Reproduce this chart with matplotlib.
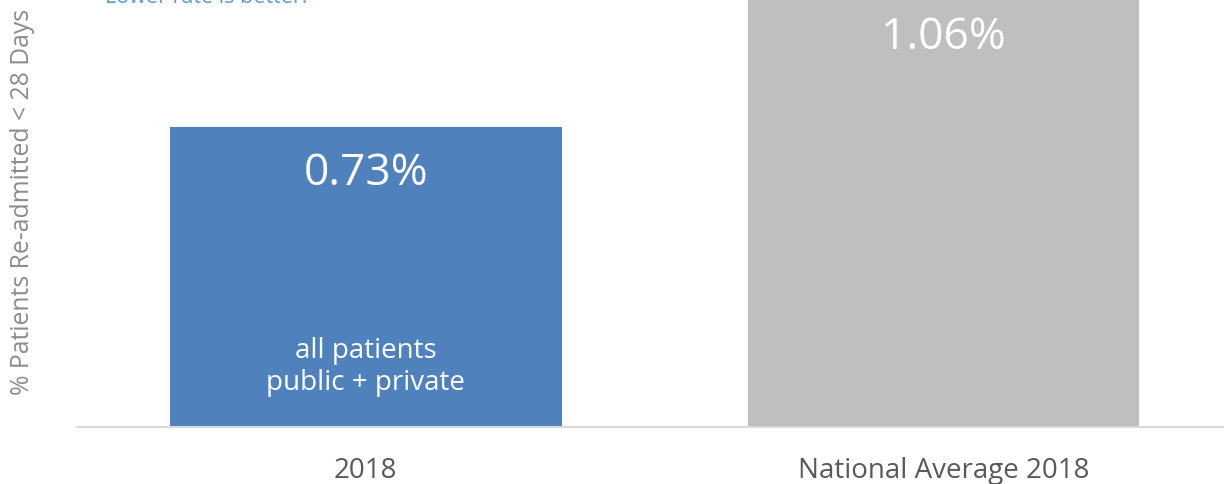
import matplotlib
matplotlib.use("Agg")
import matplotlib.pyplot as plt

categories = ["2018", "National Average 2018"]
rates = [0.73, 1.06]
bar_colors = ["#4f81bd", "#bfbfbf"]
value_labels = ["0.73%", "1.06%"]
note = "all patients\npublic + private"
ylabel = "% Patients Re-admitted < 28 Days"
subtitle = "Lower rate is better."

plt.rcParams["font.family"] = ["Open Sans", "DejaVu Sans"]

fig = plt.figure(figsize=(12.24, 4.85), dpi=100)
# axes runs past the top of the figure so the tall bar is cut off
ax = fig.add_axes([0.0629, 0.1175, 0.944, 1.0165])
ax.set_ylim(0, 1.2)
ax.set_xlim(-0.5, 1.5)

x = range(len(categories))
bars = ax.bar(x, rates, width=0.678, color=bar_colors)

for b, v, lab in zip(bars, rates, value_labels):
    ax.text(b.get_x() + b.get_width() / 2, v - 0.11, lab, ha="center", va="center",
            color="white", fontsize=32)

ax.text(0, 0.148, note, ha="center", va="center", color="white", fontsize=20,
        linespacing=1.18)

ax.set_xticks(list(x))
ax.set_xticklabels(categories, fontsize=20, color="#595959")
ax.tick_params(axis="x", length=0, pad=21)
ax.set_yticks([])
for s in ["top", "right", "left"]:
    ax.spines[s].set_visible(False)
ax.spines["bottom"].set_color("#d9d9d9")
ax.spines["bottom"].set_linewidth(1.5)

fig.text(0.018, 0.583, ylabel, rotation=90, ha="center", va="center",
         color="#8c8c8c", fontsize=17.8)
fig.text(0.086, 0.9938, subtitle, ha="left", va="baseline", color="#5b9bd5",
         fontsize=15.5)

fig.savefig("out.png", dpi=100)
